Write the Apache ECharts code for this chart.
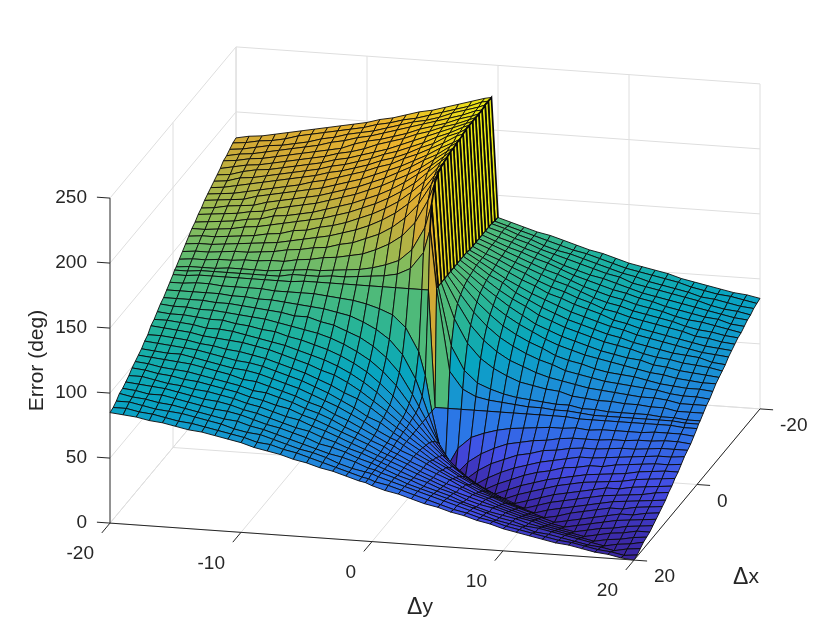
<!DOCTYPE html>
<html>
<head>
<meta charset="utf-8">
<title>Error surface</title>
<script src="https://cdn.jsdelivr.net/npm/echarts@6/dist/echarts.min.js"></script>
<style>
html, body { margin: 0; padding: 0; background: #fff; }
#main { width: 840px; height: 630px; }
</style>
</head>
<body>
<div id="main"></div>
<script>
var dxValues = [-20,-19,-18,-17,-16,-15,-14,-13,-12,-11,-10,-9,-8,-7,-6,-5,-4,-3,-2,-1,-0.5,0,1,2,3,4,5,6,7,8,9,10,11,12,13,14,15,16,17,18,19,20];
var dyValues = [-20,-19,-18,-17,-16,-15,-14,-13,-12,-11,-10,-9,-8,-7,-6,-5,-4,-3,-2,-1,-0.5,0,1,2,3,4,5,6,7,8,9,10,11,12,13,14,15,16,17,18,19,20];
var dyTicks = [-20, -10, 0, 10, 20];
var dxTicks = [-20, 0, 20];
var zTicks = [0, 50, 100, 150, 200, 250];

// error in deg, one row per dxValues entry, one column per dyValues entry
var errorRows = [
[180,182,183,185,187,189,191,193,195,197,199,202,204,207,210,212,215,218,221,224,225,133,130,127,124,122,119,116,113,111,108,105,103,101,99,96,94,92,90,88,87,85],
[179,180,182,183,185,188,190,192,194,196,198,201,203,206,208,211,214,217,220,224,225,133,130,127,124,121,118,115,113,110,107,104,102,100,98,96,93,91,89,88,86,84],
[177,178,180,182,183,185,187,190,192,195,197,199,202,205,208,210,213,217,220,223,225,134,131,127,124,120,117,115,112,109,106,103,101,98,96,94,92,89,88,86,84,83],
[175,177,178,180,182,184,186,188,191,193,196,198,201,204,207,210,213,216,219,223,224,134,131,127,124,120,117,114,111,108,105,103,99,97,95,93,91,89,86,84,83,81],
[174,175,177,178,180,182,184,186,188,190,194,197,199,202,205,209,212,215,219,222,224,134,130,127,123,120,116,112,109,106,104,101,98,95,93,91,89,87,85,83,81,80],
[171,173,175,176,178,180,182,184,186,189,191,194,198,201,204,208,211,215,218,222,224,134,130,126,123,119,116,112,108,105,102,99,97,94,92,89,87,85,83,82,79,78],
[169,170,173,175,176,178,180,182,184,187,189,192,195,198,202,206,210,214,218,222,224,134,130,126,122,118,114,111,107,103,100,97,95,92,90,88,85,83,82,80,78,76],
[167,168,171,172,174,176,178,180,182,185,187,190,193,197,200,204,208,213,217,222,224,134,130,125,121,117,113,109,106,102,98,95,93,90,88,86,84,81,79,78,76,75],
[165,166,168,170,172,174,176,178,180,183,185,188,191,195,198,202,207,211,217,221,224,134,129,125,120,116,111,107,104,100,97,93,91,88,86,84,82,80,77,76,74,73],
[163,164,165,167,169,171,173,175,178,180,183,186,189,193,196,201,205,210,215,221,223,134,129,124,119,114,110,105,102,98,95,92,88,86,83,81,79,77,75,73,72,71],
[161,162,163,164,167,169,171,173,175,177,180,183,186,190,194,198,203,208,214,219,222,135,129,123,117,112,107,103,99,95,92,89,86,84,81,79,77,75,73,71,70,69],
[158,159,161,162,163,166,168,170,172,174,177,180,183,187,191,196,201,207,212,219,222,135,129,122,117,110,105,100,96,92,89,86,83,81,78,76,74,72,71,70,67,66],
[156,157,158,159,161,162,165,167,169,171,174,177,180,184,188,193,198,204,211,218,221,135,128,121,114,108,103,97,93,89,86,83,80,78,76,73,71,70,68,67,66,64],
[153,154,155,156,158,159,162,163,165,167,170,173,176,180,184,189,195,202,209,217,221,135,127,119,112,105,99,93,89,85,82,79,76,74,72,71,68,67,65,64,63,62],
[151,151,152,153,155,156,158,160,162,164,166,169,172,176,180,185,191,198,207,216,220,135,126,117,108,101,95,90,85,81,78,75,73,71,69,67,65,64,62,61,60,60],
[148,149,149,150,151,152,154,155,158,159,162,164,167,171,175,180,186,194,203,214,219,135,124,113,104,96,90,85,81,76,73,71,68,66,65,64,62,60,59,58,58,57],
[145,146,146,147,148,149,150,151,153,155,157,159,162,165,169,174,180,188,198,211,218,135,121,108,98,90,84,79,75,72,68,66,64,62,61,60,59,58,56,55,55,54],
[142,143,143,144,145,145,146,147,149,150,152,153,156,158,162,166,172,180,191,207,216,135,117,101,90,82,76,72,68,65,63,61,59,58,57,56,55,55,54,52,52,52],
[139,140,140,141,141,142,142,143,143,145,146,148,149,151,153,157,162,169,180,198,211,135,108,90,79,72,67,63,61,59,58,55,54,53,53,52,52,51,51,49,49,49],
[136,137,137,137,138,138,138,138,139,140,141,141,142,143,144,146,149,153,162,180,198,135,90,72,63,59,56,54,53,52,51,51,49,49,48,48,48,48,47,47,46,46],
[135,135,136,136,136,136,136,136,136,138,138,138,139,139,140,141,142,144,149,162,180,135,72,59,54,52,51,50,49,49,48,48,47,46,46,46,46,46,46,46,45,45],
[133,133,134,134,134,134,134,134,134,134,135,135,135,135,135,135,135,135,135,135,135,45,45,45,45,45,45,45,45,45,45,45,44,44,44,44,44,44,44,44,43,43],
[130,130,131,131,130,130,130,130,129,129,129,129,128,127,126,124,121,117,108,90,72,45,0,18,27,31,34,36,37,38,39,39,40,39,40,40,40,40,41,41,41,40],
[127,127,127,127,127,126,126,125,125,124,123,122,121,119,117,113,108,101,90,72,59,45,18,0,11,18,23,27,29,31,32,34,35,35,35,36,36,37,37,38,38,37],
[124,124,124,124,123,123,122,121,120,119,117,117,114,112,108,104,98,90,79,63,54,45,27,11,0,8,14,18,22,24,27,28,30,31,31,32,33,33,34,35,35,35],
[122,121,121,120,120,119,118,117,116,114,112,110,108,105,101,96,90,82,72,59,52,45,31,18,8,0,6,11,15,18,21,23,25,27,27,28,29,30,31,32,32,33],
[119,118,118,117,116,116,114,113,111,110,107,105,102,99,95,90,84,76,67,56,51,45,34,23,14,6,0,5,9,13,16,18,21,22,24,24,26,27,28,29,29,30],
[116,116,115,114,112,112,111,109,107,105,103,100,97,94,90,85,79,72,63,54,50,45,36,27,18,11,5,0,4,8,11,14,16,18,20,21,22,23,25,26,27,27],
[114,113,112,111,109,108,107,106,104,102,99,96,93,89,86,81,75,68,61,53,49,45,37,29,22,15,9,4,0,4,7,10,13,15,17,18,19,20,22,23,24,25],
[110,110,109,108,106,105,103,102,100,98,95,92,89,85,81,76,72,66,59,52,49,45,38,31,24,18,13,8,4,0,3,6,9,11,13,15,17,17,19,20,21,22],
[108,107,106,105,104,102,100,98,97,95,92,89,86,82,78,73,68,62,58,51,48,45,39,32,27,21,16,11,7,3,0,3,6,8,10,12,14,15,16,17,19,20],
[105,104,103,103,101,99,97,95,94,92,89,86,83,79,75,71,66,61,55,50,48,45,39,34,28,23,18,14,10,6,3,0,3,5,7,9,11,13,14,15,16,17],
[103,102,101,100,99,97,95,93,90,89,86,83,80,76,73,68,64,59,54,49,47,44,40,35,30,25,21,16,13,9,6,3,0,2,5,7,9,11,11,13,14,15],
[101,100,98,97,96,94,92,90,88,85,84,81,78,74,71,67,62,58,53,49,46,44,39,35,31,27,22,18,15,11,8,5,3,0,2,4,6,8,10,10,12,13],
[99,98,96,95,93,92,90,88,86,83,81,78,76,72,69,65,61,57,53,48,46,44,40,35,31,27,24,20,17,13,10,7,5,2,0,2,4,6,8,9,10,11],
[96,96,94,92,91,89,88,86,84,81,79,76,73,71,67,64,60,56,52,48,46,44,40,36,32,28,24,21,18,15,12,9,7,4,2,0,2,4,5,7,8,9],
[94,93,92,91,89,87,85,84,82,79,77,74,71,68,66,62,59,55,52,48,46,44,40,36,33,29,26,22,19,17,14,11,9,6,4,2,0,2,4,5,7,7],
[92,91,89,89,87,85,83,81,80,78,75,72,70,67,64,60,58,55,51,48,46,44,40,37,33,30,27,23,20,17,15,13,10,8,6,4,2,0,2,3,5,6],
[91,89,88,86,85,83,81,79,77,76,73,71,68,65,62,59,56,54,51,47,46,44,41,37,34,31,28,25,22,19,16,14,11,10,8,6,4,2,0,2,3,5],
[88,88,86,84,83,82,80,78,76,73,71,70,67,64,61,59,56,52,49,47,46,44,41,38,35,32,29,26,23,20,17,15,13,10,9,7,5,3,2,0,2,3],
[86,86,84,83,81,79,78,76,74,72,70,67,66,63,61,58,55,52,49,46,45,43,41,38,35,32,29,26,24,21,19,16,14,12,10,8,7,5,3,2,0,1],
[85,84,83,81,80,78,76,75,73,71,69,66,64,62,59,57,54,52,49,46,45,43,40,38,35,32,30,27,25,22,20,17,15,13,11,9,8,6,4,3,1,0]
];

var parulaColors = ['#3A249E', '#444DE6', '#2B77E6', '#1992D4', '#08A5C0', '#1FB29E', '#4EBA7A', '#93BC55', '#D2AA36', '#EDB42C', '#EAEC14'];

// view of the 3d box: screen position of the box centre on the floor and
// how far one unit of dy, dx and error moves a point on the screen
var view = {
    cx: 435, cy: 466,
    dy: [13.1, 0.925],
    dx: [-3.15, 3.78],
    z: [0, -1.3]
};

function project(dy, dx, z) {
    return [
        view.cx + dy * view.dy[0] + dx * view.dx[0] + z * view.z[0],
        view.cy + dy * view.dy[1] + dx * view.dx[1] + z * view.z[1]
    ];
}

var cells = [];
for (var i = 0; i < dxValues.length - 1; i++) {
    for (var j = 0; j < dyValues.length - 1; j++) {
        // face colour comes from its first corner
        cells.push([i, j, errorRows[i][j]]);
    }
}

function renderCell(params, api) {
    var i = api.value(0);
    var j = api.value(1);
    var corners = [[i, j], [i, j + 1], [i + 1, j + 1], [i + 1, j]];
    var points = corners.map(function (c) {
        return api.coord(project(dyValues[c[1]], dxValues[c[0]], errorRows[c[0]][c[1]]));
    });
    // the back cliff faces are only a sliver wide, their edges read heavier
    var cliff = dxValues[i] < -0.5 && Math.abs(errorRows[i][j] - errorRows[i][j + 1]) > 60;
    return {
        type: 'polygon',
        shape: { points: points },
        style: { fill: api.visual('color'), stroke: '#0a0a0a', lineWidth: cliff ? 1.7 : 0.9 }
    };
}

function line3d(api, a, b, color) {
    var p = api.coord(project(a[0], a[1], a[2]));
    var q = api.coord(project(b[0], b[1], b[2]));
    return {
        type: 'line',
        shape: { x1: p[0], y1: p[1], x2: q[0], y2: q[1] },
        style: { stroke: color, lineWidth: 1 }
    };
}

function text3d(api, pos, ox, oy, text, align) {
    var p = api.coord(project(pos[0], pos[1], pos[2]));
    return {
        type: 'text',
        x: p[0] + ox,
        y: p[1] + oy,
        style: {
            text: text,
            fill: '#262626',
            font: '19px "Liberation Sans", Arial, sans-serif',
            textAlign: align,
            textVerticalAlign: 'middle',
            rich: {
                sym: { fontSize: 23, fontFamily: '"Liberation Sans", Arial, sans-serif', fill: '#262626' },
                let: { fontSize: 21, fontFamily: '"Liberation Sans", Arial, sans-serif', fill: '#262626' }
            }
        }
    };
}

var gridColor = '#dedede';
var axisColor = '#262626';

function renderWalls(params, api) {
    var items = [];
    var top = zTicks[zTicks.length - 1];
    zTicks.forEach(function (z) {
        items.push(line3d(api, [-20, 20, z], [-20, -20, z], gridColor));
        items.push(line3d(api, [-20, -20, z], [20, -20, z], gridColor));
    });
    dyTicks.forEach(function (dy) {
        items.push(line3d(api, [dy, 20, 0], [dy, -20, 0], gridColor));
        items.push(line3d(api, [dy, -20, 0], [dy, -20, top], gridColor));
    });
    dxTicks.forEach(function (dx) {
        items.push(line3d(api, [-20, dx, 0], [20, dx, 0], gridColor));
        if (dx < 20) items.push(line3d(api, [-20, dx, 0], [-20, dx, top], gridColor));
    });
    return { type: 'group', children: items };
}

function renderAxes(params, api) {
    var items = [];
    var top = zTicks[zTicks.length - 1];
    items.push(line3d(api, [-20, 20, 0], [-20, 20, top], axisColor));
    items.push(line3d(api, [-20, 20, 0], [20, 20, 0], axisColor));
    items.push(line3d(api, [20, 20, 0], [20, -20, 0], axisColor));
    zTicks.forEach(function (z) {
        items.push(line3d(api, [-20, 20, z], [-21, 20, z], axisColor));
        items.push(text3d(api, [-20, 20, z], -23, 0, String(z), 'right'));
    });
    dyTicks.forEach(function (dy) {
        items.push(line3d(api, [dy, 20, 0], [dy, 22.6, 0], axisColor));
        items.push(text3d(api, [dy, 20, 0], -16, 31, String(dy), 'right'));
    });
    dxTicks.forEach(function (dx) {
        items.push(line3d(api, [20, dx, 0], [21, dx, 0], axisColor));
        items.push(text3d(api, [20, dx, 0], 20, 17, String(dx), 'left'));
    });
    items.push(text3d(api, [0, 20, 0], 48, 66, '{sym|Δ}{let|y}', 'center'));
    items.push(text3d(api, [20, 0, 0], 49, 93, '{sym|Δ}{let|x}', 'center'));
    var mid = api.coord(project(-20, 20, 135));
    items.push({
        type: 'text',
        x: mid[0] - 73,
        y: mid[1] + 13,
        rotation: Math.PI / 2,
        style: {
            text: 'Error (deg)',
            fill: '#262626',
            font: '21px "Liberation Sans", Arial, sans-serif',
            textAlign: 'center',
            textVerticalAlign: 'middle'
        }
    });
    return { type: 'group', children: items };
}

var myChart = echarts.init(document.getElementById('main'));

var option = {
    animation: false,
    grid: { left: 0, right: 0, top: 0, bottom: 0 },
    xAxis: { type: 'value', min: 0, max: 840, show: false },
    yAxis: { type: 'value', min: 0, max: 630, inverse: true, show: false },
    visualMap: {
        show: false,
        seriesIndex: 1,
        dimension: 2,
        min: 0,
        max: 225,
        inRange: { color: parulaColors }
    },
    series: [
        {
            type: 'custom',
            silent: true,
            clip: false,
            data: [[0, 0]],
            renderItem: renderWalls,
            z: 1
        },
        {
            type: 'custom',
            silent: true,
            clip: false,
            progressive: 0,
            data: cells,
            encode: { x: 0, y: 1 },
            renderItem: renderCell,
            z: 2
        },
        {
            type: 'custom',
            silent: true,
            clip: false,
            data: [[0, 0]],
            renderItem: renderAxes,
            z: 3
        }
    ]
};

myChart.setOption(option);
</script>
</body>
</html>
